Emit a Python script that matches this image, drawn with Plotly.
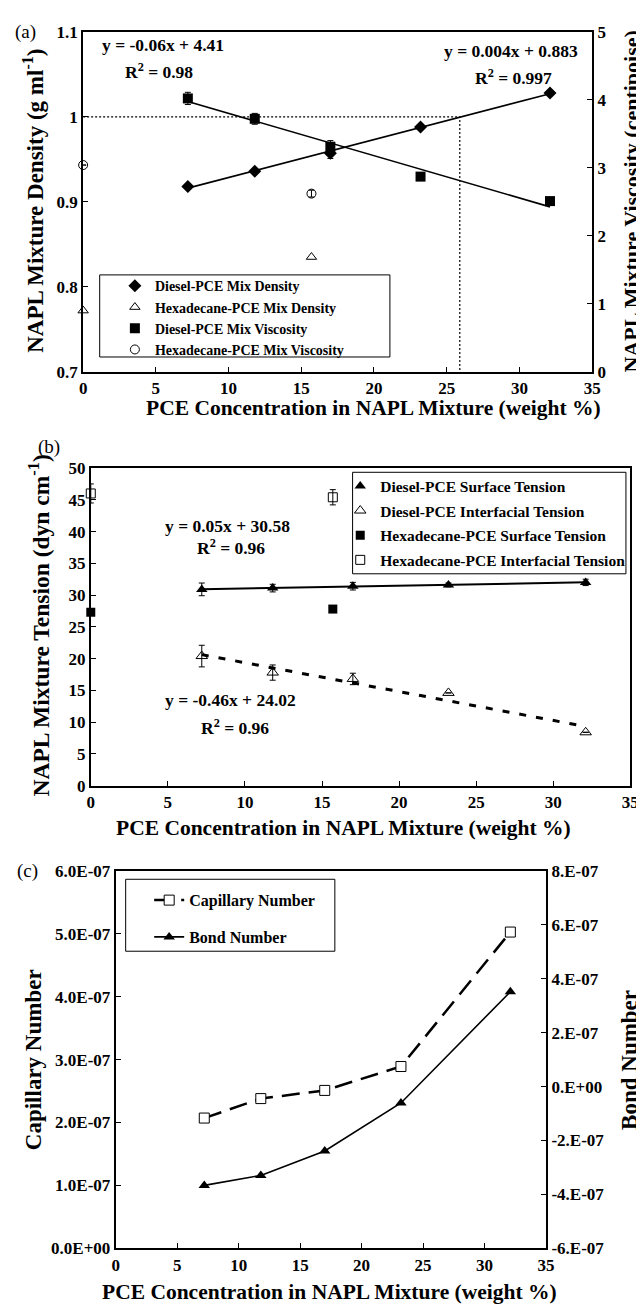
import numpy as np
import plotly.graph_objects as go

W, H = 644, 1307

# ---------------- Panel (a) data ----------------
pce_diesel = [7.2, 11.8, 17.0, 23.2, 32.1]
dens_diesel = [0.918, 0.936, 0.957, 0.988, 1.028]
dens_diesel_err = [0.0, 0.0, 0.006, 0.0, 0.0]
visc_diesel = [4.02, 3.72, 3.31, 2.87, 2.51]
visc_diesel_err = [0.09, 0.08, 0.09, 0.0, 0.0]
pce_hexa = [0.0, 15.7]
dens_hexa = [0.772, 0.835]
visc_hexa = [3.04, 2.62]
visc_hexa_err = [0.0, 0.05]
ref_density = 1.0
ref_pce = 25.9

# ---------------- Panel (b) data ----------------
surf_diesel = [30.9, 31.1, 31.4, 31.6, 32.0]
surf_diesel_err = [1.0, 0.6, 0.6, 0.3, 0.5]
ift_diesel = [20.4, 17.8, 16.8, 14.6, 8.4]
ift_diesel_err = [1.7, 1.2, 0.9, 0.0, 0.0]
surf_hexa = [27.3, 27.8]
ift_hexa = [46.0, 45.4]
ift_hexa_err = [1.5, 1.2]

# ---------------- Panel (c) data ----------------
cap_number = [2.07e-7, 2.38e-7, 2.51e-7, 2.89e-7, 5.03e-7]
bond_number = [-3.67e-7, -3.30e-7, -2.39e-7, -0.61e-7, 3.52e-7]

cap_tickvals = [0, 1e-7, 2e-7, 3e-7, 4e-7, 5e-7, 6e-7]
cap_ticktext = ["0.0E+00", "1.0E-07", "2.0E-07", "3.0E-07", "4.0E-07", "5.0E-07", "6.0E-07"]
bond_tickvals = [-6e-7, -4e-7, -2e-7, 0, 2e-7, 4e-7, 6e-7, 8e-7]
bond_ticktext = ["-6.E-07", "-4.E-07", "-2.E-07", "0.E+00", "2.E-07", "4.E-07", "6.E-07", "8.E-07"]

FONT = "Liberation Serif"


def px(x):
    return x / W


def py(y):
    return 1 - y / H


def fit_line(x, y):
    k, b = np.polyfit(x, y, 1)
    xs = np.array([min(x), max(x)])
    return xs, k * xs + b


def err(arr):
    return dict(type="data", array=arr, visible=True, color="black", thickness=1, width=3)


fig = go.Figure()

# ---- (a) ----
xs, ys = fit_line(pce_diesel, dens_diesel)
fig.add_trace(go.Scatter(x=xs, y=ys, mode="lines", line=dict(color="black", width=1.6),
                         showlegend=False, xaxis="x", yaxis="y"))
xs, ys = fit_line(pce_diesel, visc_diesel)
fig.add_trace(go.Scatter(x=xs, y=ys, mode="lines", line=dict(color="black", width=1.6),
                         showlegend=False, xaxis="x", yaxis="y2"))
fig.add_trace(go.Scatter(x=[0, ref_pce, ref_pce], y=[ref_density, ref_density, 0.7], mode="lines",
                         line=dict(color="black", width=1.2, dash="2px,2px"),
                         showlegend=False, xaxis="x", yaxis="y"))
fig.add_trace(go.Scatter(x=pce_diesel, y=dens_diesel, mode="markers", name="Diesel-PCE Mix Density",
                         marker=dict(symbol="diamond", size=10, color="black"),
                         error_y=err(dens_diesel_err), xaxis="x", yaxis="y", legend="legend", cliponaxis=False))
fig.add_trace(go.Scatter(x=pce_hexa, y=dens_hexa, mode="markers", name="Hexadecane-PCE Mix Density",
                         marker=dict(symbol="triangle-up-open", size=9, color="black", line=dict(width=1)),
                         xaxis="x", yaxis="y", legend="legend", cliponaxis=False))
fig.add_trace(go.Scatter(x=pce_diesel, y=visc_diesel, mode="markers", name="Diesel-PCE Mix Viscosity",
                         marker=dict(symbol="square", size=10, color="black"),
                         error_y=err(visc_diesel_err), xaxis="x", yaxis="y2", legend="legend", cliponaxis=False))
fig.add_trace(go.Scatter(x=pce_hexa, y=visc_hexa, mode="markers", name="Hexadecane-PCE Mix Viscosity",
                         marker=dict(symbol="circle-open", size=9, color="black", line=dict(width=1)),
                         error_y=err(visc_hexa_err), xaxis="x", yaxis="y2", legend="legend", cliponaxis=False))

# ---- (b) ----
xs, ys = fit_line(pce_diesel, surf_diesel)
fig.add_trace(go.Scatter(x=xs, y=ys, mode="lines", line=dict(color="black", width=2),
                         showlegend=False, xaxis="x2", yaxis="y3"))
xs, ys = fit_line(pce_diesel, ift_diesel)
fig.add_trace(go.Scatter(x=xs, y=ys, mode="lines", line=dict(color="black", width=3, dash="7px,10px"),
                         showlegend=False, xaxis="x2", yaxis="y3"))
fig.add_trace(go.Scatter(x=pce_diesel, y=surf_diesel, mode="markers", name="Diesel-PCE Surface Tension",
                         marker=dict(symbol="triangle-up", size=10, color="black"), legendgroup="b1",
                         error_y=err(surf_diesel_err), xaxis="x2", yaxis="y3", legend="legend2", cliponaxis=False))
fig.add_trace(go.Scatter(x=pce_diesel, y=ift_diesel, mode="markers", name="Diesel-PCE Interfacial Tension",
                         marker=dict(symbol="triangle-up-open", size=10, color="black", line=dict(width=1)),
                         legendgroup="b2",
                         error_y=err(ift_diesel_err), xaxis="x2", yaxis="y3", legend="legend2", cliponaxis=False))
fig.add_trace(go.Scatter(x=pce_hexa, y=surf_hexa, mode="markers", name="Hexadecane-PCE Surface Tension",
                         marker=dict(symbol="square", size=9, color="black"), legendgroup="b3",
                         xaxis="x2", yaxis="y3", legend="legend2", cliponaxis=False))
fig.add_trace(go.Scatter(x=pce_hexa, y=ift_hexa, mode="markers", name="Hexadecane-PCE Interfacial Tension",
                         marker=dict(symbol="square-open", size=9, color="black", line=dict(width=1)),
                         legendgroup="b4",
                         error_y=err(ift_hexa_err), xaxis="x2", yaxis="y3", legend="legend2", cliponaxis=False))

# ---- (c) ----
fig.add_trace(go.Scatter(x=pce_diesel, y=cap_number, mode="lines+markers", name="Capillary Number",
                         line=dict(color="black", width=2.5, dash="18px,9px"), legendgroup="c1",
                         marker=dict(symbol="square", size=10, color="white", line=dict(color="black", width=1)),
                         xaxis="x3", yaxis="y4", legend="legend3", cliponaxis=False))
fig.add_trace(go.Scatter(x=pce_diesel, y=bond_number, mode="lines+markers", name="Bond Number",
                         line=dict(color="black", width=1.6), legendgroup="c2",
                         marker=dict(symbol="triangle-up", size=10, color="black"),
                         xaxis="x3", yaxis="y5", legend="legend3", cliponaxis=False))

axis_common = dict(showgrid=False, zeroline=False, showline=True, linecolor="black", linewidth=2,
                   ticks="inside", ticklen=5, tickwidth=1, tickcolor="black",
                   tickfont=dict(family=FONT, size=17, color="black", weight="bold"))

dom_a_x = [px(72.6), px(592.1)]
dom_a_y = [py(360), py(15)]
dom_b_x = [px(80.4), px(631.1)]
dom_b_y = [py(780), py(457.7)]
dom_c_x = [px(105.9), px(545)]
dom_c_y = [py(1249.3), py(866.7)]

fig.update_layout(
    width=W, height=H, margin=dict(l=0, r=0, t=0, b=0),
    paper_bgcolor="white", plot_bgcolor="white",
    font=dict(family=FONT, size=17, color="black", weight="bold"),
    xaxis=dict(domain=dom_a_x, range=[0, 35], dtick=5, anchor="y", mirror=True, **axis_common),
    yaxis=dict(domain=dom_a_y, range=[0.7, 1.1], dtick=0.1, anchor="x", **axis_common),
    yaxis2=dict(range=[0, 5], dtick=1, overlaying="y", side="right", anchor="x", **axis_common),
    xaxis2=dict(domain=dom_b_x, range=[0, 35], dtick=5, anchor="y3", mirror=True, **axis_common),
    yaxis3=dict(domain=dom_b_y, range=[0, 50], dtick=5, anchor="x2", mirror=True, **axis_common),
    xaxis3=dict(domain=dom_c_x, range=[0, 35], dtick=5, anchor="y4", mirror=True, **axis_common),
    yaxis4=dict(domain=dom_c_y, range=[0, 6e-7], tickvals=cap_tickvals, ticktext=cap_ticktext,
                anchor="x3", **axis_common),
    yaxis5=dict(range=[-6e-7, 8e-7], tickvals=bond_tickvals, ticktext=bond_ticktext,
                overlaying="y4", side="right", anchor="x3", **axis_common),
    legend=dict(x=px(105), y=py(257), xanchor="left", yanchor="top", bgcolor="rgba(0,0,0,0)",
                borderwidth=0, font=dict(family=FONT, size=14, color="black", weight="bold")),
    legend2=dict(x=px(335), y=py(459), xanchor="left", yanchor="top", bgcolor="rgba(0,0,0,0)",
                 borderwidth=0, tracegroupgap=1.5,
                 font=dict(family=FONT, size=15.5, color="black", weight="bold")),
    legend3=dict(x=px(140), y=py(879), xanchor="left", yanchor="top", bgcolor="rgba(0,0,0,0)",
                 borderwidth=0, tracegroupgap=13,
                 font=dict(family=FONT, size=16, color="black", weight="bold")),
)

# legend boxes
for (x0, y0, x1, y1) in [(89.5, 261.7, 385.7, 345), (347.6, 462, 626.6, 565), (116, 875, 329.5, 948)]:
    fig.add_shape(type="rect", xref="paper", yref="paper", x0=px(x0), x1=px(x1), y0=py(y1), y1=py(y0),
                  line=dict(color="black", width=1), fillcolor="rgba(0,0,0,0)", layer="above")


def ann(text, x, y, size=17.5, xanchor="left", angle=0, weight="bold"):
    fig.add_annotation(text=text, x=px(x), y=py(y), xref="paper", yref="paper", showarrow=False,
                       xanchor=xanchor, yanchor="middle", textangle=angle,
                       font=dict(family=FONT, size=size, color="black", weight=weight))


# equations
ann("y = -0.06x + 4.41", 90, 28)
ann("R<sup>2</sup> = 0.98", 113, 55)
ann("y = 0.004x + 0.883", 439, 34)
ann("R<sup>2</sup> = 0.997", 470, 61)
ann("y = 0.05x + 30.58", 154, 517)
ann("R<sup>2</sup> = 0.96", 187, 538)
ann("y = -0.46x + 24.02", 154, 693)
ann("R<sup>2</sup> = 0.96", 191, 720)

# panel labels
ann("(a)", 1, 15, size=19, weight="normal")
ann("(b)", 25, 436, size=19, weight="normal")
ann("(c)", 3, 867, size=19, weight="normal")

# axis titles
XT = "PCE Concentration in NAPL Mixture (weight %)"
ann(XT, 369, 397, size=21.5, xanchor="center")
ann(XT, 338, 823, size=21.5, xanchor="center")
ann(XT, 324, 1294, size=21.5, xanchor="center")
ann("NAPL Mixture Density (g ml<sup>-1</sup>)", 22, 187, size=23, xanchor="center", angle=-90)
ann("NAPL Mixture Viscosity (centipoise)", 632, 187, size=22, xanchor="center", angle=-90)
ann("NAPL Mixture Tension (dyn cm<sup>-1</sup>)", 28, 617, size=23.5, xanchor="center", angle=-90)
ann("Capillary Number", 22, 1058, size=23, xanchor="center", angle=-90)
ann("Bond Number", 630, 1058, size=23, xanchor="center", angle=-90)

fig.write_html("out.html")
